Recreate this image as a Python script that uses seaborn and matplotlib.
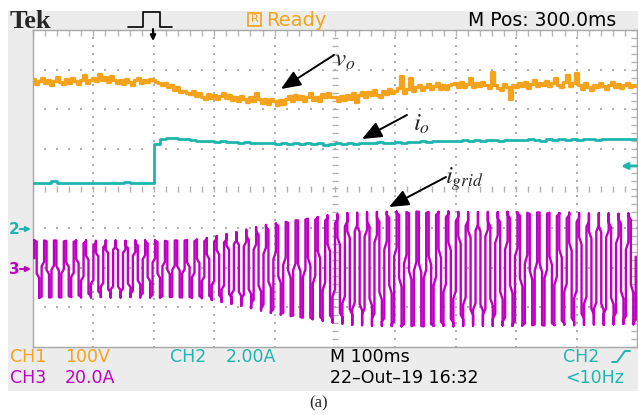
import numpy as np
import pandas as pd
import matplotlib
matplotlib.use("Agg")
import matplotlib.pyplot as plt
import seaborn as sns
from matplotlib.patches import Rectangle, FancyArrowPatch
from matplotlib.lines import Line2D

# ---------------- data (screen divisions, time in ms) ----------------
# CH1 v_o : one sample every 5 ms from -200 ms to 800 ms
vo_div = [
    2.76, 2.64, 2.71, 2.80, 2.66, 2.74, 2.62, 2.72, 2.82, 2.68,
    2.64, 2.77, 2.67, 2.79, 2.72, 2.63, 2.75, 2.86, 2.66, 2.73,
    2.80, 2.72, 2.90, 2.74, 2.82, 2.69, 2.84, 2.74, 2.66, 2.75,
    2.63, 2.77, 2.69, 2.61, 2.74, 2.80, 2.66, 2.75, 2.70, 2.77,
    2.73, 2.69, 2.65, 2.60, 2.66, 2.55, 2.61, 2.49, 2.57, 2.44,
    2.47, 2.42, 2.39, 2.45, 2.33, 2.40, 2.31, 2.27, 2.38, 2.29,
    2.37, 2.26, 2.34, 2.41, 2.28, 2.36, 2.23, 2.31, 2.20, 2.33,
    2.26, 2.18, 2.32, 2.22, 2.42, 2.27, 2.16, 2.25, 2.13, 2.27,
    2.21, 2.10, 2.23, 2.14, 2.27, 2.33, 2.22, 2.36, 2.26, 2.33,
    2.20, 2.30, 2.40, 2.24, 2.31, 2.22, 2.38, 2.30, 2.42, 2.32,
    2.30, 2.20, 2.33, 2.24, 2.36, 2.27, 2.42, 2.18, 2.37, 2.43,
    2.31, 2.44, 2.35, 2.48, 2.36, 2.30, 2.45, 2.38, 2.50, 2.40,
    2.47, 2.54, 2.85, 2.42, 2.51, 2.80, 2.46, 2.55, 2.61, 2.49,
    2.57, 2.63, 2.50, 2.58, 2.67, 2.52, 2.61, 2.51, 2.60, 2.64,
    2.65, 2.55, 2.69, 2.57, 2.63, 2.78, 2.56, 2.66, 2.59, 2.70,
    2.62, 2.54, 2.95, 2.60, 2.53, 2.48, 2.64, 2.56, 2.25, 2.60,
    2.57, 2.66, 2.59, 2.70, 2.54, 2.64, 2.74, 2.58, 2.67, 2.61,
    2.71, 2.58, 2.65, 2.78, 2.62, 2.56, 2.68, 2.86, 2.59, 2.66,
    2.92, 2.60, 2.52, 2.65, 2.56, 2.49, 2.62, 2.55, 2.67, 2.58,
    2.51, 2.61, 2.70, 2.56, 2.64, 2.53, 2.60, 2.66, 2.55, 2.62, 2.58,
]
vo_time = list(range(-200, 801, 5))

# CH2 i_o : one sample every 10 ms
io_div = [
    0.14, 0.13, 0.15, 0.19, 0.14, 0.13, 0.14, 0.15, 0.13, 0.14,
    0.14, 0.13, 0.15, 0.14, 0.13, 0.16, 0.14, 0.13, 0.14, 0.15,
    1.12, 1.24, 1.28, 1.27, 1.25, 1.26, 1.22, 1.20, 1.21, 1.19,
    1.18, 1.20, 1.17, 1.18, 1.16, 1.17, 1.15, 1.16, 1.14, 1.15,
    1.13, 1.15, 1.12, 1.14, 1.13, 1.15, 1.12, 1.14, 1.10, 1.13,
    1.14, 1.12, 1.15, 1.13, 1.16, 1.14, 1.15, 1.17, 1.15, 1.16,
    1.17, 1.16, 1.18, 1.17, 1.19, 1.18, 1.20, 1.19, 1.21, 1.20,
    1.21, 1.23, 1.20, 1.22, 1.21, 1.23, 1.22, 1.21, 1.23, 1.22,
    1.23, 1.22, 1.24, 1.23, 1.21, 1.24, 1.23, 1.25, 1.22, 1.24,
    1.23, 1.25, 1.24, 1.23, 1.25, 1.24, 1.26, 1.24, 1.25, 1.26, 1.25,
]
io_time = list(range(-200, 801, 10))

# CH3 i_grid : peak amplitude (div) of each 60 Hz cycle
igrid_peak = [
    0.73, 0.72, 0.72, 0.71, 0.72, 0.72, 0.71, 0.72, 0.72, 0.71,
    0.72, 0.72, 0.72, 0.71, 0.72, 0.73, 0.74, 0.78, 0.83, 0.88,
    0.93, 0.99, 1.05, 1.11, 1.15, 1.19, 1.23, 1.27, 1.31, 1.35,
    1.38, 1.41, 1.42, 1.43, 1.44, 1.44, 1.45, 1.44, 1.45, 1.44,
    1.44, 1.45, 1.44, 1.43, 1.44, 1.44, 1.43, 1.44, 1.43, 1.42,
    1.43, 1.42, 1.41, 1.42, 1.41, 1.40, 1.41, 1.40, 1.39, 1.40,
]
grid_freq = 60.0        # Hz
screen_columns = 245    # display columns across the 10 divisions
ch3_ground = -2.03

top_texts = ["Tek", "Ready", "M Pos: 300.0ms"]

# ---------------- style ----------------
sns.set_style("white")
plt.rcParams['font.family'] = ['DejaVu Sans']
plt.rcParams['mathtext.fontset'] = 'stix'

ORANGE = '#f5a21c'
CYAN = '#1eb5ae'
MAGENTA = '#bf00c2'

W, H = 638, 415
fig = plt.figure(figsize=(W / 100, H / 100), dpi=100)
fig.patch.set_facecolor('white')


def fx(x):
    return x / W


def fy(y):
    return 1 - y / H


fig.patches.append(Rectangle((fx(8), fy(391)), (638 - 8) / W, (391 - 11) / H,
                             transform=fig.transFigure, facecolor='#ececec',
                             edgecolor='none', zorder=-10))

ax = fig.add_axes([fx(33), fy(347), 604 / W, 317 / H])
ax.set_zorder(1)
ax.set_facecolor('white')

# ---------------- traces ----------------
df_vo = pd.DataFrame({'t': vo_time, 'v': vo_div})
sns.lineplot(data=df_vo, x='t', y='v', ax=ax, color=ORANGE, lw=2.4,
             drawstyle='steps-mid', estimator=None, sort=False, legend=False, zorder=4)

df_io = pd.DataFrame({'t': io_time, 'i': io_div})
sns.lineplot(data=df_io, x='t', y='i', ax=ax, color=CYAN, lw=2.0,
             drawstyle='steps-post', estimator=None, sort=False, legend=False, zorder=4)

# CH3: each screen column shows the span of the 60 Hz waveform inside it
dt = 1000.0 / screen_columns
k = np.arange(screen_columns * 10)
t_dense = -200 + (k + 0.5) * dt / 10
x_col = -200 + (k // 10 + 0.5) * dt
cyc = np.clip(((t_dense + 200) * grid_freq / 1000).astype(int), 0, len(igrid_peak) - 1)
amp = np.asarray(igrid_peak)[cyc]
ig = ch3_ground + amp * np.sin(2 * np.pi * grid_freq * t_dense / 1000 + 0.3)
df_ig = pd.DataFrame({'t': x_col, 'i': ig})
sns.lineplot(data=df_ig, x='t', y='i', ax=ax, color=MAGENTA, lw=1.7,
             estimator=None, sort=False, legend=False, zorder=3)

ax.set_xlim(-200, 800)
ax.set_ylim(-4, 4)
ax.set_xticks(np.arange(-200, 801, 100))
ax.set_xticks(np.arange(-200, 801, 20), minor=True)
ax.set_yticks(np.arange(-4, 4.01, 1))
ax.set_yticks(np.arange(-4, 4.01, 0.2), minor=True)
ax.tick_params(which='both', direction='in', top=True, right=True, length=4,
               width=1, color='#b5b5b5', labelbottom=False, labelleft=False)
for s in ax.spines.values():
    s.set_color('#a8a8a8')
    s.set_linewidth(1)
ax.set_xlabel('')
ax.set_ylabel('')

# graticule dots
gx = np.arange(-100, 800, 100)
yy = np.arange(-4, 4.001, 0.2)
X, Y = np.meshgrid(gx[gx != 300], yy)
ax.scatter(X.ravel(), Y.ravel(), s=1.5, c='#b0b0b0', marker='s', linewidths=0, zorder=1)
gy = np.array([-3, -2, -1, 1, 2, 3])
xx = np.arange(-200, 801, 20)
X2, Y2 = np.meshgrid(xx, gy)
ax.scatter(X2.ravel(), Y2.ravel(), s=1.5, c='#b0b0b0', marker='s', linewidths=0, zorder=1)
ax.plot(xx, np.zeros(len(xx)), ls='none', marker='|', ms=4, mew=1,
        color='#b0b0b0', zorder=1)
ax.plot(np.full(len(yy), 300), yy, ls='none', marker='_', ms=4, mew=1,
        color='#b0b0b0', zorder=1)


# ---------------- annotations (figure pixel coords) ----------------
def P(x, y):
    return (x, H - y)


def arrow(tail, tip, color='black', scale=20, lw=1.4, style='-|>,head_length=0.6,head_width=0.25'):
    fig.add_artist(FancyArrowPatch(posA=P(*tail), posB=P(*tip), transform=None, zorder=6,
                                   arrowstyle=style, mutation_scale=scale, lw=lw,
                                   color=color, shrinkA=0, shrinkB=0))


arrow((334, 55), (281, 89))
arrow((407, 115), (362, 139))
arrow((446, 177), (389, 207))
fig.text(fx(334), fy(67), r'$v_o$', fontsize=18, ha='left', va='baseline')
fig.text(fx(413), fy(131), r'$i_o$', fontsize=18, ha='left', va='baseline')
fig.text(fx(445), fy(184), r'$i_{grid}$', fontsize=18, ha='left', va='baseline')

# top bar
fig.text(fx(10), fy(28), top_texts[0], family='Liberation Serif', weight='bold',
         fontsize=19, ha='left', va='baseline')
fig.lines.append(Line2D([fx(128), fx(143), fx(143), fx(160), fx(160), fx(172)],
                        [fy(27), fy(27), fy(12), fy(12), fy(27), fy(27)],
                        transform=fig.transFigure, color='black', lw=1.2))
arrow((153, 29), (153, 41), scale=8, lw=1.5, style='-|>')
fig.patches.append(Rectangle((fx(248), fy(26)), 13 / W, 13 / H, transform=fig.transFigure,
                             facecolor='none', edgecolor=ORANGE, lw=1.2))
fig.text(fx(254.5), fy(19.5), 'R', color=ORANGE, fontsize=8, ha='center', va='center')
fig.text(fx(266), fy(26), top_texts[1], color=ORANGE, fontsize=14, ha='left', va='baseline')
fig.text(fx(468), fy(26), top_texts[2], color='black', fontsize=13.5, ha='left', va='baseline')

# left markers
fig.text(fx(9), fy(229), '2', color=CYAN, fontsize=11, ha='left', va='center', weight='bold')
arrow((20, 229), (31, 229), color=CYAN, scale=7, lw=1.5, style='-|>')
fig.text(fx(9), fy(269), '3', color=MAGENTA, fontsize=11, ha='left', va='center', weight='bold')
arrow((20, 269), (31, 269), color=MAGENTA, scale=7, lw=1.5, style='-|>')
arrow((637, 166), (621, 166), color=CYAN, scale=9, lw=2, style='-|>')

# bottom readouts
fs = 12.5
fig.text(fx(10), fy(362), 'CH1', color=ORANGE, fontsize=fs, ha='left', va='baseline')
fig.text(fx(65), fy(362), '100V', color=ORANGE, fontsize=fs, ha='left', va='baseline')
fig.text(fx(170), fy(362), 'CH2', color=CYAN, fontsize=fs, ha='left', va='baseline')
fig.text(fx(226), fy(362), '2.00A', color=CYAN, fontsize=fs, ha='left', va='baseline')
fig.text(fx(330), fy(362), 'M 100ms', color='black', fontsize=fs, ha='left', va='baseline')
fig.text(fx(563), fy(362), 'CH2', color=CYAN, fontsize=fs, ha='left', va='baseline')
fig.lines.append(Line2D([fx(612), fx(617), fx(625), fx(630)],
                        [fy(362), fy(362), fy(351), fy(351)],
                        transform=fig.transFigure, color=CYAN, lw=1.4))
fig.text(fx(10), fy(383), 'CH3', color=MAGENTA, fontsize=fs, ha='left', va='baseline')
fig.text(fx(65), fy(383), '20.0A', color=MAGENTA, fontsize=fs, ha='left', va='baseline')
fig.text(fx(330), fy(383), '22–Out–19 16:32', color='black', fontsize=fs, ha='left', va='baseline')
fig.text(fx(565), fy(383), '<10Hz', color=CYAN, fontsize=fs, ha='left', va='baseline')

fig.text(fx(319), fy(403), '(a)', family='Liberation Serif', fontsize=12,
         ha='center', va='center')

fig.savefig('out.png', dpi=100)
